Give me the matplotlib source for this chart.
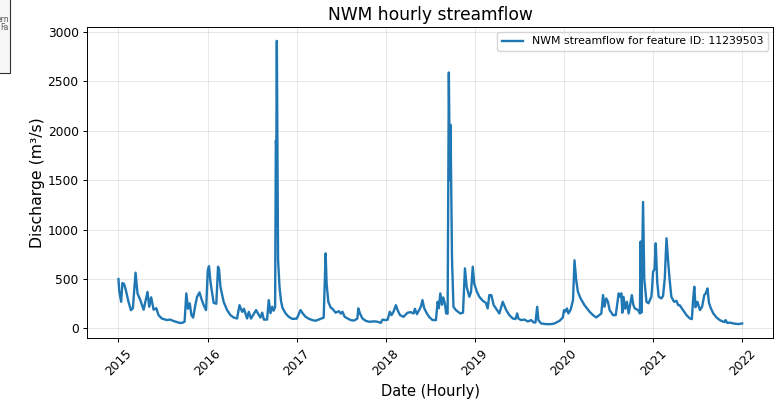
import matplotlib
matplotlib.use("Agg")
import matplotlib.pyplot as plt
import matplotlib.dates as mdates
from matplotlib.patches import Rectangle
import pandas as pd

# days since 2015-01-01
days = [0, 3, 11, 16, 23, 30, 41, 51, 59, 70, 78, 89, 103, 119, 126, 134, 144, 155, 164, 178,
        199, 212, 226, 240, 253, 265, 271, 278, 285, 292, 299, 306, 315, 322, 332, 340, 349, 359,
        366, 371, 377, 384, 390, 401, 408, 412, 418, 431, 445, 459, 472, 486, 496, 507, 514, 527,
        534, 543, 564, 572, 582, 589, 596, 609, 616, 623, 630, 636, 642, 645, 647, 649, 654, 660,
        666, 672, 685, 698, 712, 731, 746, 756, 767, 779, 794, 808, 820, 829, 841, 849, 853, 860,
        870, 877, 890, 903, 911, 918, 927, 940, 952, 965, 979, 983, 990, 1000, 1013, 1027, 1041,
        1048, 1062, 1075, 1082, 1092, 1103, 1112, 1119, 1127, 1137, 1144, 1154, 1168, 1185, 1198,
        1209, 1215, 1223, 1232, 1239, 1246, 1253, 1264, 1273, 1287, 1301, 1308, 1313, 1319, 1326,
        1331, 1338, 1343, 1349, 1354, 1358, 1361, 1367, 1373, 1383, 1391, 1401, 1412, 1420, 1427,
        1438, 1445, 1452, 1458, 1469, 1479, 1493, 1506, 1513, 1520, 1528, 1538, 1547, 1561, 1575,
        1589, 1602, 1616, 1627, 1634, 1639, 1650, 1664, 1678, 1691, 1702, 1709, 1716, 1721, 1732,
        1753, 1773, 1787, 1808, 1821, 1826, 1831, 1838, 1844, 1853, 1863, 1869, 1876, 1883, 1894,
        1910, 1931, 1945, 1958, 1979, 1986, 1992, 1999, 2006, 2013, 2027, 2038, 2050, 2057, 2061,
        2065, 2070, 2077, 2084, 2091, 2104, 2110, 2116, 2130, 2137, 2140, 2143, 2150, 2155, 2164,
        2172, 2184, 2187, 2191, 2197, 2202, 2208, 2214, 2225, 2232, 2239, 2246, 2253, 2259, 2266,
        2277, 2287, 2294, 2300, 2314, 2328, 2342, 2350, 2355, 2360, 2365, 2373, 2383, 2392, 2401,
        2407, 2414, 2420, 2428, 2438, 2451, 2465, 2479, 2484, 2488, 2496, 2506, 2520, 2540, 2556]

flow = [500, 380, 270, 460, 450, 390, 270, 185, 205, 565, 355, 290, 190, 370, 220, 315, 190, 205, 135, 100,
        85, 90, 75, 65, 55, 60, 70, 355, 200, 255, 135, 110, 236, 320, 365, 300, 236, 186,
        590, 630, 470, 355, 260, 250, 625, 600, 420, 270, 186, 135, 111, 101, 236, 168, 200, 101,
        168, 100, 186, 150, 111, 160, 90, 90, 287, 155, 220, 180, 220, 1900, 1850, 2910, 700, 420,
        280, 210, 152, 118, 97, 100, 186, 150, 118, 100, 85, 78, 90, 100, 110, 760, 456, 270,
        210, 200, 160, 175, 150, 169, 118, 100, 85, 80, 100, 203, 150, 101, 78, 68, 70,
        72, 68, 57, 90, 85, 88, 169, 135, 169, 236, 185, 135, 118, 160, 165,
        152, 199, 145, 185, 219, 287, 205, 152, 118, 85, 85, 270, 205, 355, 240,
        314, 250, 152, 150, 2590, 1500, 2060, 700, 219, 186, 170, 152, 160, 608, 422,
        321, 370, 625, 456, 371, 321, 280, 259, 203, 338, 338, 236, 203, 152, 270,
        186, 135, 101, 95, 152, 101, 85, 90, 71, 85, 61, 61, 219, 85, 51,
        44, 44, 51, 78, 111, 186, 170, 203, 152, 190, 287, 690, 490, 371, 304,
        236, 169, 135, 111, 152, 338, 220, 304, 270, 186, 135, 135, 355, 320, 355,
        160, 320, 200, 270, 152, 338, 240, 203, 186, 152, 880, 160, 1280, 500, 270,
        255, 321, 405, 574, 600, 862, 473, 321, 304, 330, 507, 913, 675, 490, 321,
        270, 280, 236, 236, 186, 135, 101, 95, 287, 422, 215, 270, 186, 220, 338,
        355, 405, 260, 203, 152, 111, 84, 68, 65, 85, 55, 60, 51, 44, 51]

start_date = "2015-01-01"
feature_id = "11239503"
title = "NWM hourly streamflow"
xlabel = "Date (Hourly)"
ylabel = "Discharge (m³/s)"

dates = pd.Timestamp(start_date) + pd.to_timedelta(days, unit="D")

W, H = 776, 407
fig = plt.figure(figsize=(W / 100, H / 100), dpi=100)
ax = fig.add_axes([87.3 / W, 1 - 338.3 / H, (773.3 - 87.3) / W, (338.3 - 26.7) / H])

ax.plot(dates, flow, color="#1f77b4", linewidth=1.7,
        label=f"NWM streamflow for feature ID: {feature_id}")

ax.set_title(title, fontsize=12.3, pad=5)
ax.set_xlabel(xlabel, fontsize=10.5)
ax.set_ylabel(ylabel, fontsize=11.3, labelpad=2)
ax.xaxis.set_major_locator(mdates.YearLocator())
ax.xaxis.set_major_formatter(mdates.DateFormatter("%Y"))
ax.tick_params(axis="both", labelsize=8.8, length=3.1, pad=3.1, width=0.7)
for lbl in ax.get_xticklabels():
    lbl.set_rotation(45)
for sp in ax.spines.values():
    sp.set_linewidth(0.7)
ax.grid(True, alpha=0.3, linewidth=0.7)
ax.legend(loc="upper right", fontsize=7.8)

# clipped legend box of a neighbouring panel at the left edge
fig.patches.append(Rectangle((-60 / W, 1 - 73 / H), (60 + 9.5) / W, 90 / H,
                             transform=fig.transFigure, facecolor="#f7f7f7",
                             edgecolor="#333333", linewidth=0.8, zorder=5))
fig.text(9 / W, 1 - 20 / H, "ern", ha="right", va="center", fontsize=5.5, color="#555555", zorder=6)
fig.text(9 / W, 1 - 28 / H, "Fa", ha="right", va="center", fontsize=5.5, color="#555555", zorder=6)

fig.savefig("out.png", dpi=100)
